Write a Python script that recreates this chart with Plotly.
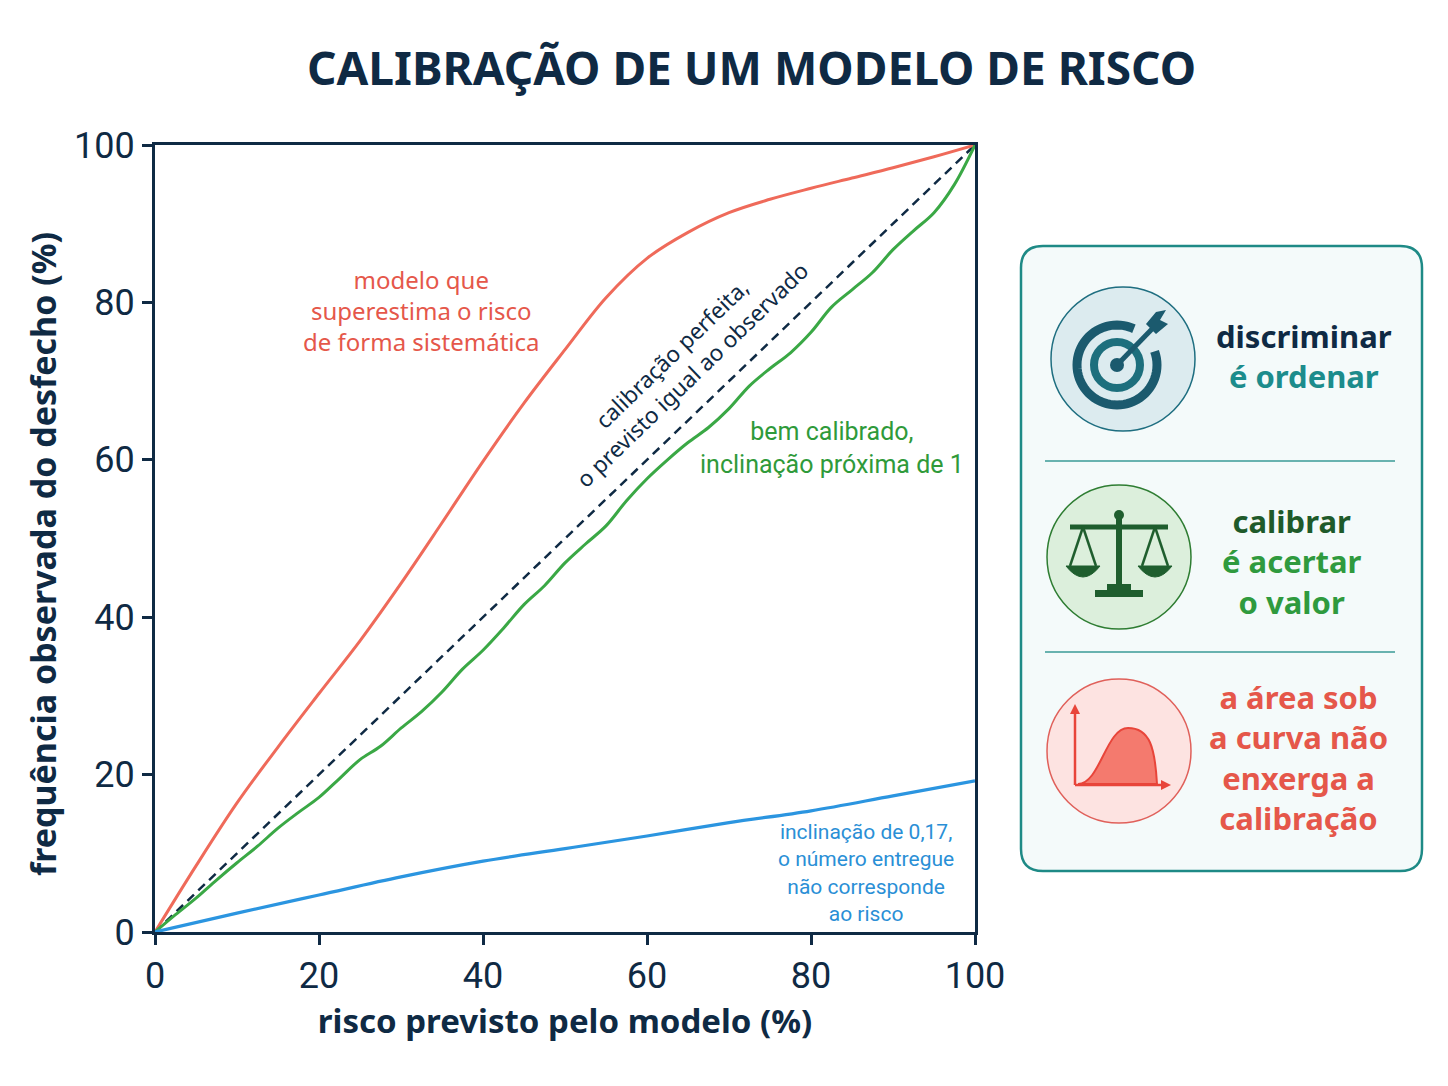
import math
import plotly.graph_objects as go

# dados (risco previsto x frequência observada, em %)
diagonal_x = [0, 100]
diagonal_y = [0, 100]

super_x = [0, 5, 10, 15, 20, 25, 30, 35, 40, 45, 50, 55, 60, 65, 70, 75, 80, 85, 90, 95, 100]
super_y = [0, 8.4, 16.4, 23.5, 30.3, 37.0, 44.3, 52.0, 59.8, 67.2, 74.0, 80.6, 85.6,
           88.9, 91.4, 93.1, 94.5, 95.8, 97.1, 98.5, 100]

bem_x = [0, 2.5, 5, 7.5, 10, 12.5, 15, 17.5, 20, 22.5, 25, 27.5, 30, 32.5, 35, 37.5, 40,
         42.5, 45, 47.5, 50, 52.5, 55, 57.5, 60, 62.5, 65, 67.5, 70, 72.5, 75, 77.5, 80,
         82.5, 85, 87.5, 90, 92.5, 95, 97.5, 100]
bem_y = [0, 2.2, 4.3, 6.6, 8.8, 10.9, 13.2, 15.2, 17.1, 19.5, 21.9, 23.6, 25.9, 28.0, 30.5,
         33.4, 35.8, 38.6, 41.6, 44.0, 46.9, 49.3, 51.6, 54.8, 57.6, 60.0, 62.2, 64.1, 66.5,
         69.4, 71.6, 73.6, 76.2, 79.4, 81.6, 83.8, 86.7, 89.1, 91.4, 95.0, 100]

baixo_x = [0, 10, 20, 30, 40, 50, 60, 70, 80, 90, 100]
baixo_y = [0, 2.4, 4.7, 7.0, 9.0, 10.6, 12.2, 13.9, 15.4, 17.3, 19.2]

tick_vals = [0, 20, 40, 60, 80, 100]

NAVY = "#0f2a44"
RED_LINE = "#ef6a5a"
RED_TXT = "#e5574a"
GREEN_LINE = "#3aa845"
GREEN_TXT = "#2f9a3a"
BLUE_LINE = "#2b95e0"
BLUE_TXT = "#2a8fd6"
TEAL = "#1e8a86"

NARROW = "Liberation Sans Narrow, Roboto, sans-serif"
SANS = "Noto Sans, Open Sans, sans-serif"

# a página tem margem de 8px, então a figura é um pouco menor que a janela
OFF = 8
FW, FH = 1432, 1070


def px(x):
    return (x - OFF) / FW


def py(y):
    return 1 - (y - OFF) / FH


def path_from(points, close=False):
    s = "M " + " L ".join(f"{px(a):.5f},{py(b):.5f}" for a, b in points)
    return s + (" Z" if close else "")


def label(x, y, text, font, **kw):
    fig.add_annotation(x=px(x), y=py(y), xref="paper", yref="paper", showarrow=False,
                       xanchor="center", yanchor="middle", text=text, font=font, **kw)


fig = go.Figure()

fig.add_trace(go.Scatter(x=diagonal_x, y=diagonal_y, mode="lines",
                         line=dict(color=NAVY, width=2.5, dash="9px,6px")))
fig.add_trace(go.Scatter(x=super_x, y=super_y, mode="lines", line_shape="spline",
                         line=dict(color=RED_LINE, width=3)))
fig.add_trace(go.Scatter(x=bem_x, y=bem_y, mode="lines", line_shape="spline",
                         line=dict(color=GREEN_LINE, width=3)))
fig.add_trace(go.Scatter(x=baixo_x, y=baixo_y, mode="lines", line_shape="spline",
                         line=dict(color=BLUE_LINE, width=3.2)))

# textos dentro do gráfico
label(421, 310, "modelo que<br>superestima o risco<br>de forma sistemática",
      dict(family=SANS, size=24, color=RED_TXT))
label(682, 364, "calibração perfeita,<br>o previsto igual ao observado",
      dict(family=SANS, size=22.5, color=NAVY), textangle=-44)
label(832, 448, "bem calibrado,<br>inclinação próxima de 1",
      dict(family=NARROW, size=25, color=GREEN_TXT))
label(866, 873, "inclinação de 0,17,<br>o número entregue<br>não corresponde<br>ao risco",
      dict(family=NARROW, size=21, color=BLUE_TXT))

# título
label(752, 67, "CALIBRAÇÃO DE UM MODELO DE RISCO",
      dict(family=SANS, size=46, color=NAVY, weight="bold"))

# título do eixo y (posicionado como no original)
label(43, 554, "frequência observada do desfecho (%)",
      dict(family=SANS, size=34, color=NAVY, weight="bold"), textangle=-90)

shapes = []

# painel lateral
x0, y0, x1, y1, r = 1021, 246, 1422, 871, 22
shapes.append(dict(
    type="path", xref="paper", yref="paper",
    path=(f"M {px(x0 + r)},{py(y0)} L {px(x1 - r)},{py(y0)} Q {px(x1)},{py(y0)} {px(x1)},{py(y0 + r)}"
          f" L {px(x1)},{py(y1 - r)} Q {px(x1)},{py(y1)} {px(x1 - r)},{py(y1)}"
          f" L {px(x0 + r)},{py(y1)} Q {px(x0)},{py(y1)} {px(x0)},{py(y1 - r)}"
          f" L {px(x0)},{py(y0 + r)} Q {px(x0)},{py(y0)} {px(x0 + r)},{py(y0)} Z"),
    line=dict(color=TEAL, width=2.5), fillcolor="#f4fafa", layer="below"))
for ys in (461, 652):
    shapes.append(dict(type="line", xref="paper", yref="paper", x0=px(1045), x1=px(1395),
                       y0=py(ys), y1=py(ys), line=dict(color="#3a9a96", width=1.5)))


def circle(cx, cy, rad, fill, edge, w=1.5):
    return dict(type="circle", xref="paper", yref="paper", x0=px(cx - rad), x1=px(cx + rad),
                y0=py(cy + rad), y1=py(cy - rad), fillcolor=fill, line=dict(color=edge, width=w))


def seg(xa, ya, xb, yb, color, w):
    return dict(type="line", xref="paper", yref="paper", x0=px(xa), y0=py(ya), x1=px(xb), y1=py(yb),
                line=dict(color=color, width=w))


def poly(points, fill, edge=None, w=0):
    return dict(type="path", xref="paper", yref="paper", path=path_from(points, close=True),
                fillcolor=fill, line=dict(color=edge or fill, width=w))


# ícone 1: alvo
shapes.append(circle(1123, 359, 72, "#dcebef", "#1e6e80"))
tcx, tcy = 1117, 365
arc = [(tcx + 40 * math.cos(math.radians(a)), tcy - 40 * math.sin(math.radians(a)))
       for a in range(65, 385, 5)]
shapes.append(dict(type="path", xref="paper", yref="paper", path=path_from(arc),
                   line=dict(color="#1b5a6e", width=9)))
shapes.append(dict(type="circle", xref="paper", yref="paper", x0=px(tcx - 23), x1=px(tcx + 23),
                   y0=py(tcy + 23), y1=py(tcy - 23), line=dict(color="#1d6f7d", width=8)))
shapes.append(circle(tcx, tcy, 7, "#1b5a6e", "#1b5a6e", 0))
shapes.append(seg(tcx, tcy, 1152, 329, "#1b5a6e", 5))
shapes.append(poly([(1146, 324), (1156, 312), (1166, 310), (1160, 320), (1168, 324), (1156, 334)],
                   "#1b5a6e"))

# ícone 2: balança
shapes.append(circle(1119, 557, 72, "#dcefdc", "#2e7d32"))
DG = "#1f5e2e"
shapes.append(circle(1119, 515, 5, DG, DG, 0))
shapes.append(seg(1119, 518, 1119, 590, DG, 6))
shapes.append(seg(1070, 527, 1168, 527, DG, 5))
for pc in (1083, 1155):
    shapes.append(seg(pc, 527, pc - 13, 566, DG, 2.5))
    shapes.append(seg(pc, 527, pc + 13, 566, DG, 2.5))
    shapes.append(dict(type="path", xref="paper", yref="paper",
                       path=(f"M {px(pc - 17)},{py(566)} Q {px(pc)},{py(588)} {px(pc + 17)},{py(566)} Z"),
                       fillcolor=DG, line=dict(color=DG, width=1)))
shapes.append(poly([(1107, 584), (1131, 584), (1131, 590), (1107, 590)], DG))
shapes.append(poly([(1095, 590), (1143, 590), (1143, 597), (1095, 597)], DG))

# ícone 3: curva
shapes.append(circle(1119, 751, 72, "#fde3e1", "#e0605a"))
RC = "#e8453a"
shapes.append(dict(type="path", xref="paper", yref="paper",
                   path=(f"M {px(1078)},{py(784)} C {px(1100)},{py(784)} {px(1106)},{py(728)} {px(1128)},{py(728)}"
                         f" C {px(1150)},{py(728)} {px(1155)},{py(748)} {px(1157)},{py(784)} Z"),
                   fillcolor="#f47a6e", line=dict(color=RC, width=2)))
shapes.append(seg(1075, 785, 1075, 712, RC, 2.5))
shapes.append(seg(1075, 785, 1163, 785, RC, 2.5))
shapes.append(poly([(1070, 714), (1075, 704), (1080, 714)], RC))
shapes.append(poly([(1161, 780), (1171, 785), (1161, 790)], RC))

# textos do painel
label(1304, 356, "<span style='color:#0f2a44'>discriminar</span><br>é ordenar",
      dict(family=SANS, size=31, color="#1c8c8c", weight="bold"))
label(1292, 561, "<span style='color:#1e5a2a'>calibrar</span><br>é acertar<br>o valor",
      dict(family=SANS, size=31, color="#2f9a3e", weight="bold"))
label(1298, 757, "a área sob<br>a curva não<br>enxerga a<br>calibração",
      dict(family=SANS, size=31, color=RED_TXT, weight="bold"))

axis_common = dict(range=[0, 100], tickvals=tick_vals, showgrid=False, zeroline=False,
                   automargin=False,
                   showline=True, mirror=True, linecolor=NAVY, linewidth=3,
                   ticks="outside", ticklen=10, tickwidth=3, tickcolor=NAVY,
                   tickfont=dict(family=NARROW, size=36, color=NAVY))

fig.update_layout(
    width=FW, height=FH,
    margin=dict(l=0, r=0, t=0, b=0),
    paper_bgcolor="white", plot_bgcolor="white",
    showlegend=False,
    shapes=shapes,
    xaxis=dict(axis_common, domain=[px(155), px(975)],
               title=dict(text="risco previsto pelo modelo (%)", standoff=14,
                          font=dict(family=SANS, size=33, color=NAVY, weight="bold"))),
    yaxis=dict(axis_common, domain=[py(932), py(145)]),
)

fig.write_html("out.html")
